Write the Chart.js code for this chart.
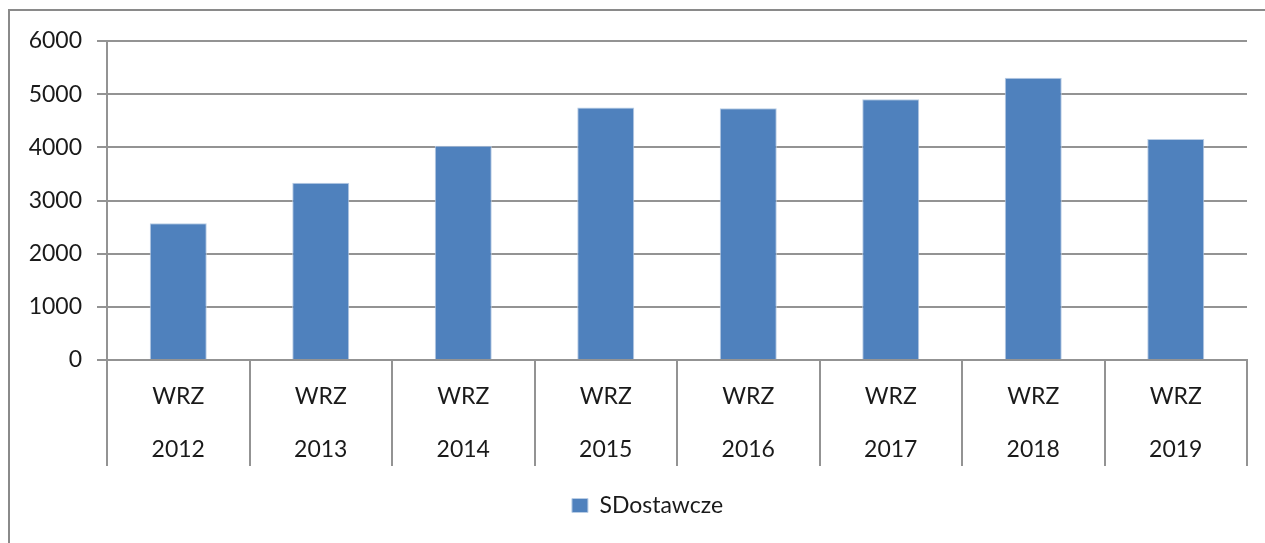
<!DOCTYPE html>
<html>
<head>
<meta charset="utf-8">
<script src="https://cdn.jsdelivr.net/npm/chart.js@4"></script>
<style>
  html, body { margin: 0; padding: 0; background: #fff; overflow: hidden; }
  /* chart frame: only its left and top edges fall inside the window */
  .frame { position: absolute; left: 8px; top: 9px; width: 1400px; height: 700px; border: 2px solid #8a8a8a; }
  .wrap { position: absolute; left: 0; top: 0; width: 1265px; height: 543px; }
</style>
</head>
<body>
<div class="frame"></div>
<div class="wrap"><canvas id="c" width="1265" height="543"></canvas></div>
<script>
// Data
const months = ["WRZ", "WRZ", "WRZ", "WRZ", "WRZ", "WRZ", "WRZ", "WRZ"];
const years = ["2012", "2013", "2014", "2015", "2016", "2017", "2018", "2019"];
const sDostawcze = [2570, 3335, 4030, 4750, 4733, 4903, 5310, 4157];
const yTicks = [0, 1000, 2000, 3000, 4000, 5000, 6000];

const GRID = "#939393";
const TEXT = "#1a1a1a";
const BAR = "#4F81BD";

Chart.defaults.font.family = "Lato, 'Open Sans', sans-serif";
Chart.defaults.font.size = 23;
Chart.defaults.color = TEXT;

// legend sits a little right of the canvas centre in the original
const legendNudge = {
  id: "legendNudge",
  afterLayout(chart) {
    if (chart.legend) { chart.legend.left += 48; chart.legend.right += 0; }
  },
};

new Chart(document.getElementById("c"), {
  type: "bar",
  data: {
    labels: months.map((m, i) => [m, years[i]]),
    datasets: [{
      label: "SDostawcze",
      data: sDostawcze,
      backgroundColor: BAR,
      borderColor: "#B9CDE5",
      borderWidth: 1,
      categoryPercentage: 1,
      barPercentage: 0.4,
    }],
  },
  options: {
    responsive: false,
    animation: false,
    layout: { padding: { left: 0, top: 41, right: 18, bottom: 16 } },
    plugins: {
      tooltip: { enabled: false },
      legend: {
        position: "bottom",
        labels: { boxWidth: 16, boxHeight: 14, padding: 10, font: { size: 23 }, color: TEXT },
      },
    },
    scales: {
      y: {
        min: 0, max: 6000,
        afterBuildTicks: (s) => { s.ticks = yTicks.map((v) => ({ value: v })); },
        afterFit: (s) => { s.width = 107; },
        grid: { color: GRID, lineWidth: 2, tickLength: 10 },
        border: { color: GRID, width: 2 },
        ticks: { padding: 15, font: { size: 23 }, color: TEXT, callback: (v) => String(v) },
      },
      x: {
        afterFit: (s) => { s.height = s.chart.height - 360 - 16 - s.chart.legend.height; },
        grid: { color: GRID, lineWidth: 2, drawOnChartArea: false, tickLength: 106, offset: true },
        border: { color: GRID, width: 2 },
        ticks: { padding: -95.5, font: { size: 23, lineHeight: 53 / 23 }, color: TEXT, maxRotation: 0, autoSkip: false },
      },
    },
  },
  plugins: [legendNudge],
});
</script>
</body>
</html>
